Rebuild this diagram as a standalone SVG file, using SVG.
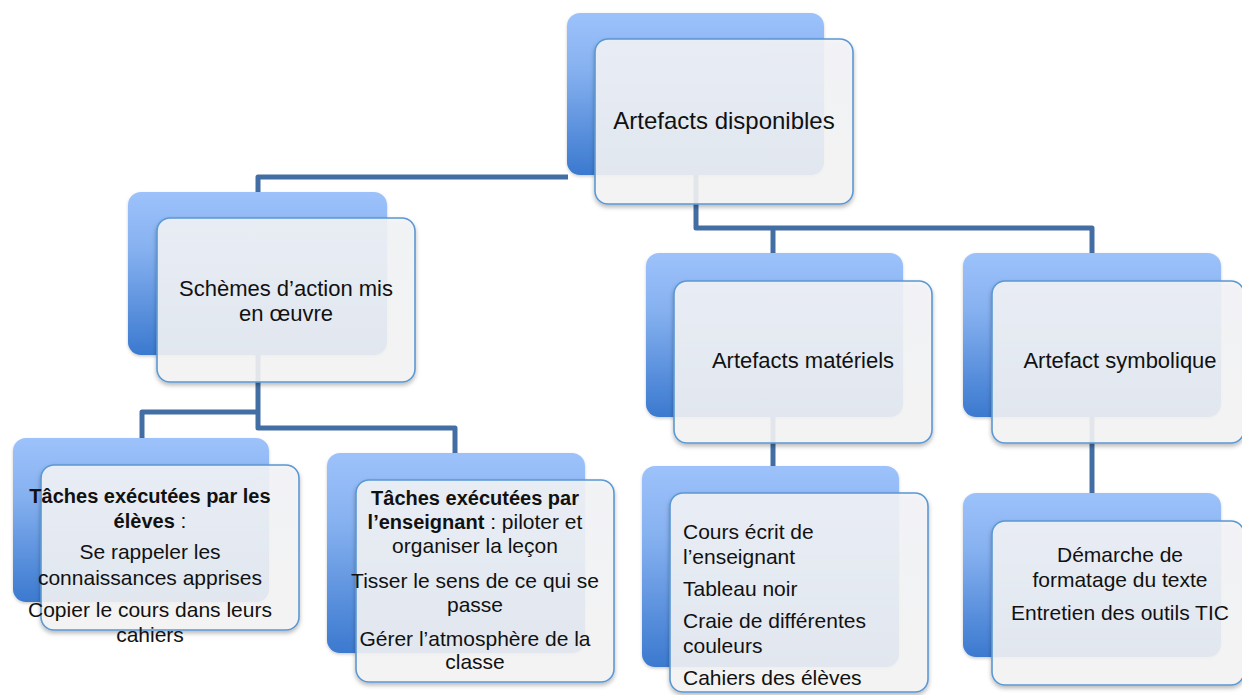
<svg xmlns="http://www.w3.org/2000/svg" width="1242" height="695" viewBox="0 0 1242 695">
<defs>
<linearGradient id="gBack" x1="0" y1="0" x2="0" y2="1">
<stop offset="0" stop-color="#9dc2fb"/>
<stop offset="0.35" stop-color="#86b1f0"/>
<stop offset="1" stop-color="#3b79cf"/>
</linearGradient>
<linearGradient id="gFront" x1="0" y1="0" x2="0" y2="1">
<stop offset="0" stop-color="#f4f5f8"/>
<stop offset="1" stop-color="#f6f6f6"/>
</linearGradient>
<filter id="sh" x="-10%" y="-10%" width="120%" height="125%">
<feDropShadow dx="0" dy="2.5" stdDeviation="2" flood-color="#000" flood-opacity="0.3"/>
</filter>
<filter id="shb" x="-10%" y="-10%" width="120%" height="125%">
<feDropShadow dx="0" dy="1.5" stdDeviation="1.5" flood-color="#000" flood-opacity="0.2"/>
</filter>
</defs>
<style>
.back{fill:url(#gBack);filter:url(#shb)}
.front{fill:url(#gFront);fill-opacity:0.88;stroke:#5b98d3;stroke-width:1.6;filter:url(#sh)}
.conn{fill:none;stroke:#436ea4;stroke-width:5;stroke-linejoin:round;stroke-linecap:butt}
text{font-family:"Liberation Sans",Arial,sans-serif;fill:#111}
.t1{font-size:24px}
.t2{font-size:22px}
.t3{font-size:21px}
.b{font-weight:bold;font-size:20px}
.c{text-anchor:middle}
</style>
<rect width="1242" height="695" fill="#ffffff"/>
<g id="connectors">
<path class="conn" d="M258,192 V177 H568"/>
<path class="conn" d="M696,175 V228 H1092 V254"/>
<path class="conn" d="M773,228 V254"/>
<path class="conn" d="M258,355 V428 H455 V454"/>
<path class="conn" d="M258,412 H142 V439"/>
<path class="conn" d="M773,416 V467"/>
<path class="conn" d="M1092,416 V494"/>
</g>
<g id="node-artefacts-disponibles">
<rect class="back" x="567" y="13" width="257" height="162" rx="13"/>
<rect class="front" x="595" y="39" width="258" height="165" rx="13"/>
<text class="t1 c" x="724" y="129">Artefacts disponibles</text>
</g>
<g id="node-schemes">
<rect class="back" x="128" y="192" width="259" height="163" rx="13"/>
<rect class="front" x="157" y="218" width="258" height="164" rx="13"/>
<text class="t2 c" x="286" y="296">Schèmes d’action mis</text>
<text class="t2 c" x="286" y="321">en œuvre</text>
</g>
<g id="node-taches-eleves">
<rect class="back" x="13" y="438" width="256" height="164" rx="13"/>
<rect class="front" x="41" y="465" width="258" height="165" rx="13"/>
<text class="t3 c" x="150" y="503"><tspan class="b">Tâches exécutées par les</tspan></text>
<text class="t3 c" x="150" y="528"><tspan class="b">élèves</tspan> :</text>
<text class="t3 c" x="150" y="559">Se rappeler les</text>
<text class="t3 c" x="150" y="585">connaissances apprises</text>
<text class="t3 c" x="150" y="617">Copier le cours dans leurs</text>
<text class="t3 c" x="150" y="642">cahiers</text>
</g>
<g id="node-taches-enseignant">
<rect class="back" x="327" y="453" width="258" height="200" rx="13"/>
<rect class="front" x="356" y="480" width="258" height="202" rx="13"/>
<text class="t3 c" x="475" y="505"><tspan class="b">Tâches exécutées par</tspan></text>
<text class="t3 c" x="475" y="529"><tspan class="b">l’enseignant</tspan> : piloter et</text>
<text class="t3 c" x="475" y="553">organiser la leçon</text>
<text class="t3 c" x="475" y="588">Tisser le sens de ce qui se</text>
<text class="t3 c" x="475" y="612">passe</text>
<text class="t3 c" x="475" y="646">Gérer l’atmosphère de la</text>
<text class="t3 c" x="475" y="669">classe</text>
</g>
<g id="node-artefacts-materiels">
<rect class="back" x="646" y="253" width="257" height="164" rx="13"/>
<rect class="front" x="674" y="281" width="258" height="162" rx="13"/>
<text class="t2 c" x="803" y="368">Artefacts matériels</text>
</g>
<g id="node-materiels-liste">
<rect class="back" x="642" y="466" width="257" height="201" rx="13"/>
<rect class="front" x="670" y="493" width="258" height="199" rx="13"/>
<text class="t3" x="683" y="539">Cours écrit de</text>
<text class="t3" x="683" y="564">l’enseignant</text>
<text class="t3" x="683" y="596">Tableau noir</text>
<text class="t3" x="683" y="628">Craie de différentes</text>
<text class="t3" x="683" y="653">couleurs</text>
<text class="t3" x="683" y="685">Cahiers des élèves</text>
</g>
<g id="node-artefact-symbolique">
<rect class="back" x="963" y="253" width="258" height="164" rx="13"/>
<rect class="front" x="992" y="281" width="252" height="162" rx="13"/>
<text class="t2 c" x="1120" y="368">Artefact symbolique</text>
</g>
<g id="node-symbolique-liste">
<rect class="back" x="963" y="493" width="258" height="164" rx="13"/>
<rect class="front" x="992" y="521" width="252" height="164" rx="13"/>
<text class="t3 c" x="1120" y="562">Démarche de</text>
<text class="t3 c" x="1120" y="587">formatage du texte</text>
<text class="t3 c" x="1120" y="620">Entretien des outils TIC</text>
</g>
</svg>
